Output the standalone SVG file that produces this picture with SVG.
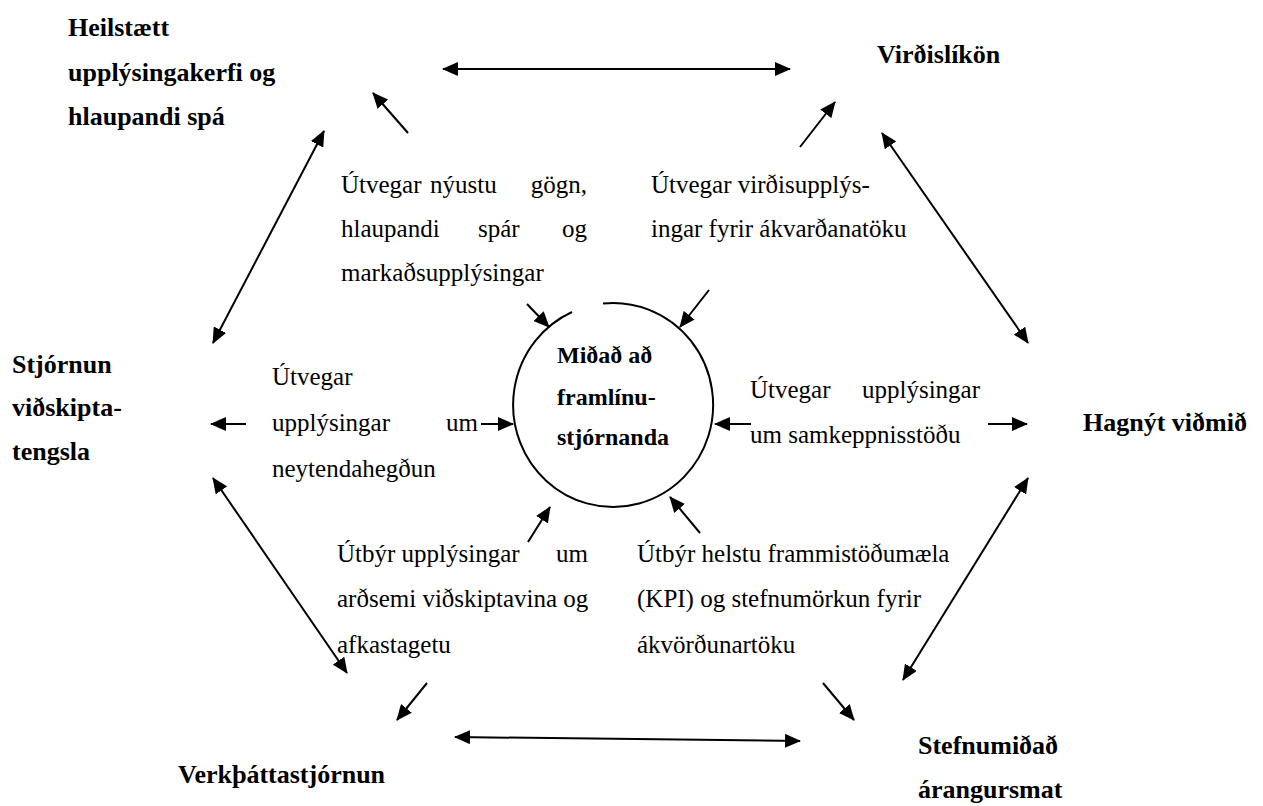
<svg xmlns="http://www.w3.org/2000/svg" width="1263" height="806" viewBox="0 0 1263 806">
<defs>
<style>
text{font-family:'Liberation Serif','Times New Roman',serif;fill:#000}
.b{font-weight:bold;font-size:26px}
.c{font-weight:bold;font-size:24px}
.r{font-weight:normal;font-size:25px}
.ln{stroke:#000;stroke-width:2;fill:none}
</style>
<marker id="ah" viewBox="0 0 16 14" refX="15" refY="7" markerWidth="16" markerHeight="14" orient="auto-start-reverse" markerUnits="userSpaceOnUse">
<path d="M0,0 L16,7 L0,14 z" fill="#000"/>
</marker>
</defs>
<rect width="1263" height="806" fill="#fff"/>

<g id="connectors">
<line class="ln" x1="443" y1="69" x2="790" y2="69" marker-start="url(#ah)" marker-end="url(#ah)"/>
<line class="ln" x1="324" y1="131" x2="213" y2="343" marker-start="url(#ah)" marker-end="url(#ah)"/>
<line class="ln" x1="882" y1="133" x2="1028" y2="343" marker-start="url(#ah)" marker-end="url(#ah)"/>
<line class="ln" x1="213" y1="478" x2="347" y2="673" marker-start="url(#ah)" marker-end="url(#ah)"/>
<line class="ln" x1="1028" y1="478" x2="903" y2="680" marker-start="url(#ah)" marker-end="url(#ah)"/>
<line class="ln" x1="455" y1="737" x2="800" y2="741" marker-start="url(#ah)" marker-end="url(#ah)"/>
<line class="ln" x1="408" y1="133" x2="373" y2="93" marker-end="url(#ah)"/>
<line class="ln" x1="800" y1="147" x2="835" y2="102" marker-end="url(#ah)"/>
<line class="ln" x1="527" y1="304" x2="549" y2="327" marker-end="url(#ah)"/>
<line class="ln" x1="709" y1="290" x2="680" y2="327" marker-end="url(#ah)"/>
<line class="ln" x1="481" y1="424" x2="513" y2="424" marker-end="url(#ah)"/>
<line class="ln" x1="751" y1="424" x2="715" y2="424" marker-end="url(#ah)"/>
<line class="ln" x1="988" y1="424" x2="1027" y2="424" marker-end="url(#ah)"/>
<line class="ln" x1="246" y1="424" x2="211" y2="424" marker-end="url(#ah)"/>
<line class="ln" x1="528" y1="542" x2="550" y2="507" marker-end="url(#ah)"/>
<line class="ln" x1="700" y1="533" x2="670" y2="497" marker-end="url(#ah)"/>
<line class="ln" x1="427" y1="683" x2="397" y2="720" marker-end="url(#ah)"/>
<line class="ln" x1="823" y1="683" x2="854" y2="720" marker-end="url(#ah)"/>
</g>

<g id="n-center">
<path class="ln" d="M603,303.5 A100,102 0 1 1 572,312"/>
<text class="c" x="557" y="363">Miðað að</text>
<text class="c" x="557" y="405">framlínu-</text>
<text class="c" x="557" y="445">stjórnanda</text>
</g>

<g id="n-heilstaett">
<text class="b" x="68" y="36">Heilstætt</text>
<text class="b" x="68" y="81">upplýsingakerfi og</text>
<text class="b" x="68" y="125">hlaupandi spá</text>
</g>
<g id="n-virdislikon">
<text class="b" x="877" y="63">Virðislíkön</text>
</g>
<g id="n-stjornun">
<text class="b" x="12" y="373">Stjórnun</text>
<text class="b" x="12" y="416">viðskipta-</text>
<text class="b" x="12" y="460">tengsla</text>
</g>
<g id="n-hagnyt">
<text class="b" x="1083" y="431">Hagnýt viðmið</text>
</g>
<g id="n-verk">
<text class="b" x="178" y="783">Verkþáttastjórnun</text>
</g>
<g id="n-stefnu">
<text class="b" x="918" y="754">Stefnumiðað</text>
<text class="b" x="918" y="798">árangursmat</text>
</g>

<g id="label-tl">
<text class="r" y="193"><tspan x="341">Útvegar</tspan><tspan x="430">nýustu</tspan><tspan x="587" text-anchor="end">gögn,</tspan></text>
<text class="r" y="237"><tspan x="341">hlaupandi</tspan><tspan x="478">spár</tspan><tspan x="587" text-anchor="end">og</tspan></text>
<text class="r" x="341" y="281">markaðsupplýsingar</text>
</g>
<g id="label-tr">
<text class="r" x="651" y="193">Útvegar virðisupplýs-</text>
<text class="r" x="651" y="237">ingar fyrir ákvarðanatöku</text>
</g>
<g id="label-ml">
<text class="r" x="272" y="385">Útvegar</text>
<text class="r" y="431"><tspan x="272">upplýsingar</tspan><tspan x="478" text-anchor="end">um</tspan></text>
<text class="r" x="272" y="477">neytendahegðun</text>
</g>
<g id="label-mr">
<text class="r" y="398"><tspan x="750">Útvegar</tspan><tspan x="980" text-anchor="end">upplýsingar</tspan></text>
<text class="r" x="750" y="443">um samkeppnisstöðu</text>
</g>
<g id="label-bl">
<text class="r" y="562"><tspan x="337">Útbýr upplýsingar</tspan><tspan x="556">um</tspan></text>
<text class="r" x="337" y="607">arðsemi viðskiptavina og</text>
<text class="r" x="337" y="653">afkastagetu</text>
</g>
<g id="label-br">
<text class="r" x="637" y="562">Útbýr helstu frammistöðumæla</text>
<text class="r" x="637" y="607">(KPI) og stefnumörkun fyrir</text>
<text class="r" x="637" y="653">ákvörðunartöku</text>
</g>
</svg>
